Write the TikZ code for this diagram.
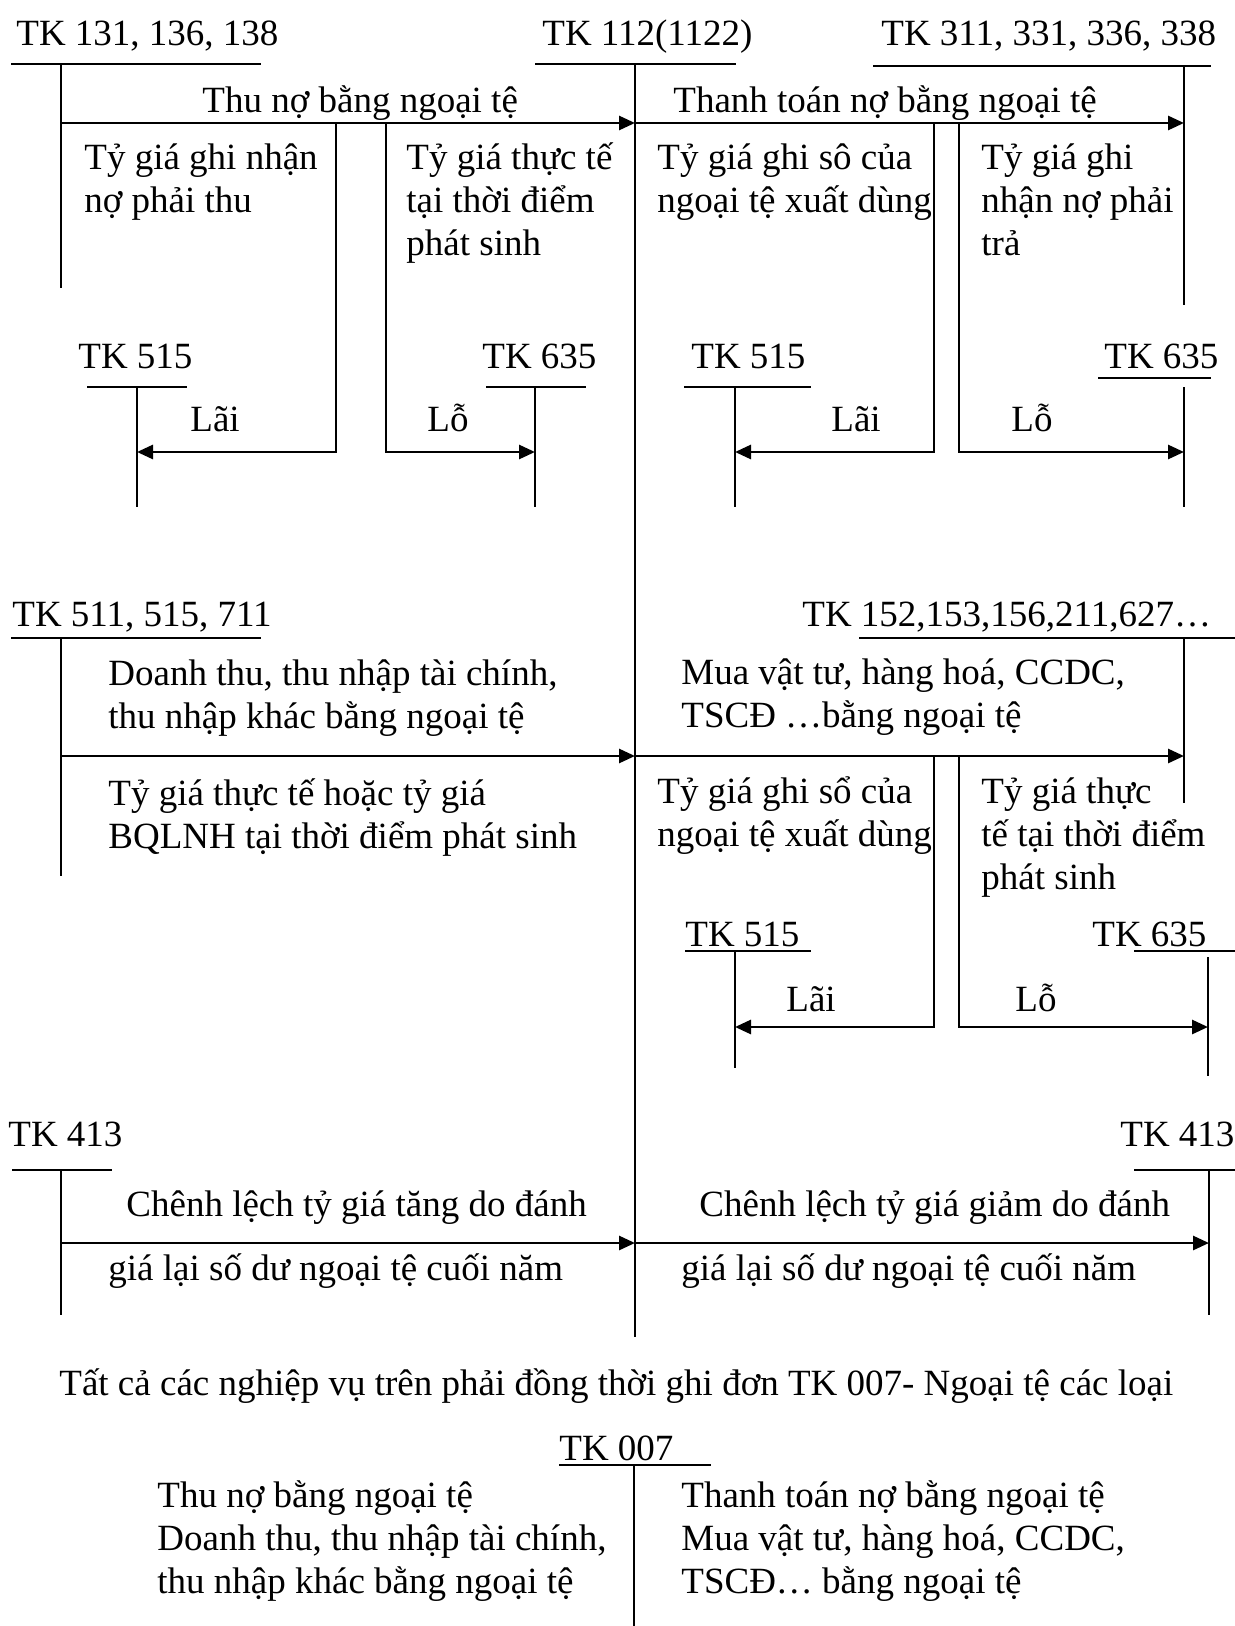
\documentclass[tikz,border=0pt]{standalone}
\usepackage{fontspec}
\setmainfont{Liberation Serif}
\usepackage{tikz}
\usetikzlibrary{arrows.meta}
\usetikzlibrary{positioning}

\tikzset{
  txt/.style={anchor=base west, inner sep=0pt, align=left, yshift=-1.5pt,
    font=\fontsize{18.5pt}{21.5pt}\selectfont},
  tline/.style={line width=1pt},
  flow/.style={line width=1.4pt, -{Triangle[length=8pt, width=7pt]}},
}

\begin{document}
\begin{tikzpicture}[x=0.5pt, y=-0.5pt]

    \useasboundingbox (0,0) rectangle (1235,1626);

    % main account
    \node[txt] (tk112) at (542,43) {TK 112(1122)};
    \draw[tline] (535,64) -- (736,64) (635,64) -- (635,1337);

    % receivables (multi-line texts sit on their last line)
    \node[txt] (tk131) at (16,43) {TK 131, 136, 138};
    \draw[tline] (11,64) -- (261,64) (61,64) -- (61,288);
    \draw[flow] (61,123) -- (635,123);
    \node[txt] (thuno) at (202,110) {Thu nợ bằng ngoại tệ};
    \node[txt] (tgnhan) at (84,210) {Tỷ giá ghi nhận\\nợ phải thu};
    \node[txt] (tgtt) at (406,253) {Tỷ giá thực tế\\tại thời điểm\\phát sinh};
    \draw[flow] (336,123) -- (336,452) -- (137,452);
    \draw[flow] (386,123) -- (386,452) -- (535,452);
    \node[txt] (tk515a) at (78,365) {TK 515};
    \draw[tline] (87,387) -- (187,387) (137,387) -- (137,507);
    \node[txt] (tk635a) at (482,365) {TK 635};
    \draw[tline] (486,387) -- (586,387) (535,387) -- (535,507);
    \node[txt] (laia) at (190,428) {Lãi};
    \node[txt] (loa) at (427,428) {Lỗ};

    % payables
    \node[txt] (tk311) at (881,43) {TK 311, 331, 336, 338};
    \draw[tline] (873,66) -- (1211,66) (1184,66) -- (1184,305);
    \draw[flow] (635,123) -- (1184,123);
    \node[txt] (ttno) at (673,110) {Thanh toán nợ bằng ngoại tệ};
    \node[txt] (tgso) at (657,210) {Tỷ giá ghi sô của\\ngoại tệ xuất dùng};
    \node[txt] (tgtra) at (981,253) {Tỷ giá ghi\\nhận nợ phải\\trả};
    \draw[flow] (934,123) -- (934,452) -- (735,452);
    \draw[flow] (959,123) -- (959,452) -- (1184,452);
    \node[txt] (tk515b) at (691,365) {TK 515};
    \draw[tline] (684,387) -- (811,387) (735,387) -- (735,507);
    \node[txt] (tk635b) at (1104,365) {TK 635};
    \draw[tline] (1098,378) -- (1211,378) (1184,387) -- (1184,507);
    \node[txt] (laib) at (831,428) {Lãi};
    \node[txt] (lob) at (1011,428) {Lỗ};

    % revenue
    \node[txt] (tk511) at (12,623) {TK 511, 515, 711};
    \draw[tline] (11,638) -- (261,638) (61,638) -- (61,876);
    \node[txt] (doanhthu) at (108,725) {Doanh thu, thu nhập tài chính,\\thu nhập khác bằng ngoại tệ};
    \draw[flow] (61,756) -- (635,756);
    \node[txt] (tgbq) at (108,845) {Tỷ giá thực tế hoặc tỷ giá\\BQLNH tại thời điểm phát sinh};

    % purchases
    \node[txt] (tk152) at (802,623) {TK 152,153,156,211,627…};
    \draw[tline] (859,638) -- (1235,638) (1184,638) -- (1184,803);
    \node[txt] (muavt) at (681,724) {Mua vật tư, hàng hoá, CCDC,\\TSCĐ …bằng ngoại tệ};
    \draw[flow] (635,756) -- (1184,756);
    \node[txt] (tgso2) at (657,843) {Tỷ giá ghi sổ của\\ngoại tệ xuất dùng};
    \node[txt] (tgtt2) at (981,886) {Tỷ giá thực\\tế tại thời điểm\\phát sinh};
    \draw[flow] (934,756) -- (934,1027) -- (735,1027);
    \draw[flow] (959,756) -- (959,1027) -- (1208,1027);
    \node[txt] (tk515c) at (685,943) {TK 515};
    \draw[tline] (685,951) -- (811,951) (735,951) -- (735,1068);
    \node[txt] (tk635c) at (1092,943) {TK 635};
    \draw[tline] (1134,951) -- (1235,951) (1208,957) -- (1208,1076);
    \node[txt] (laic) at (786,1008) {Lãi};
    \node[txt] (loc) at (1015,1008) {Lỗ};

    % revaluation
    \node[txt] (tk413a) at (8,1143) {TK 413};
    \draw[tline] (12,1170) -- (112,1170) (61,1170) -- (61,1315);
    \node[txt] (cltang) at (126,1213) {Chênh lệch tỷ giá tăng do đánh};
    \draw[flow] (61,1243) -- (635,1243);
    \node[txt] (cuoinama) at (108,1277) {giá lại số dư ngoại tệ cuối năm};
    \node[txt] (tk413b) at (1120,1143) {TK 413};
    \draw[tline] (1134,1170) -- (1235,1170) (1209,1170) -- (1209,1315);
    \node[txt] (clgiam) at (699,1213) {Chênh lệch tỷ giá giảm do đánh};
    \draw[flow] (635,1243) -- (1209,1243);
    \node[txt] (cuoinamb) at (681,1277) {giá lại số dư ngoại tệ cuối năm};

    % off-balance account
    \node[txt] (note) at (59,1392) {Tất cả các nghiệp vụ trên phải đồng thời ghi đơn TK 007- Ngoại tệ các loại};
    \node[txt] (tk007) at (559,1457) {TK 007};
    \draw[tline] (559,1465) -- (711,1465) (634,1465) -- (634,1626);
    \node[txt] (no007) at (157,1590) {Thu nợ bằng ngoại tệ\\Doanh thu, thu nhập tài chính,\\thu nhập khác bằng ngoại tệ};
    \node[txt] (co007) at (681,1590) {Thanh toán nợ bằng ngoại tệ\\Mua vật tư, hàng hoá, CCDC,\\TSCĐ… bằng ngoại tệ};

\end{tikzpicture}
\end{document}
